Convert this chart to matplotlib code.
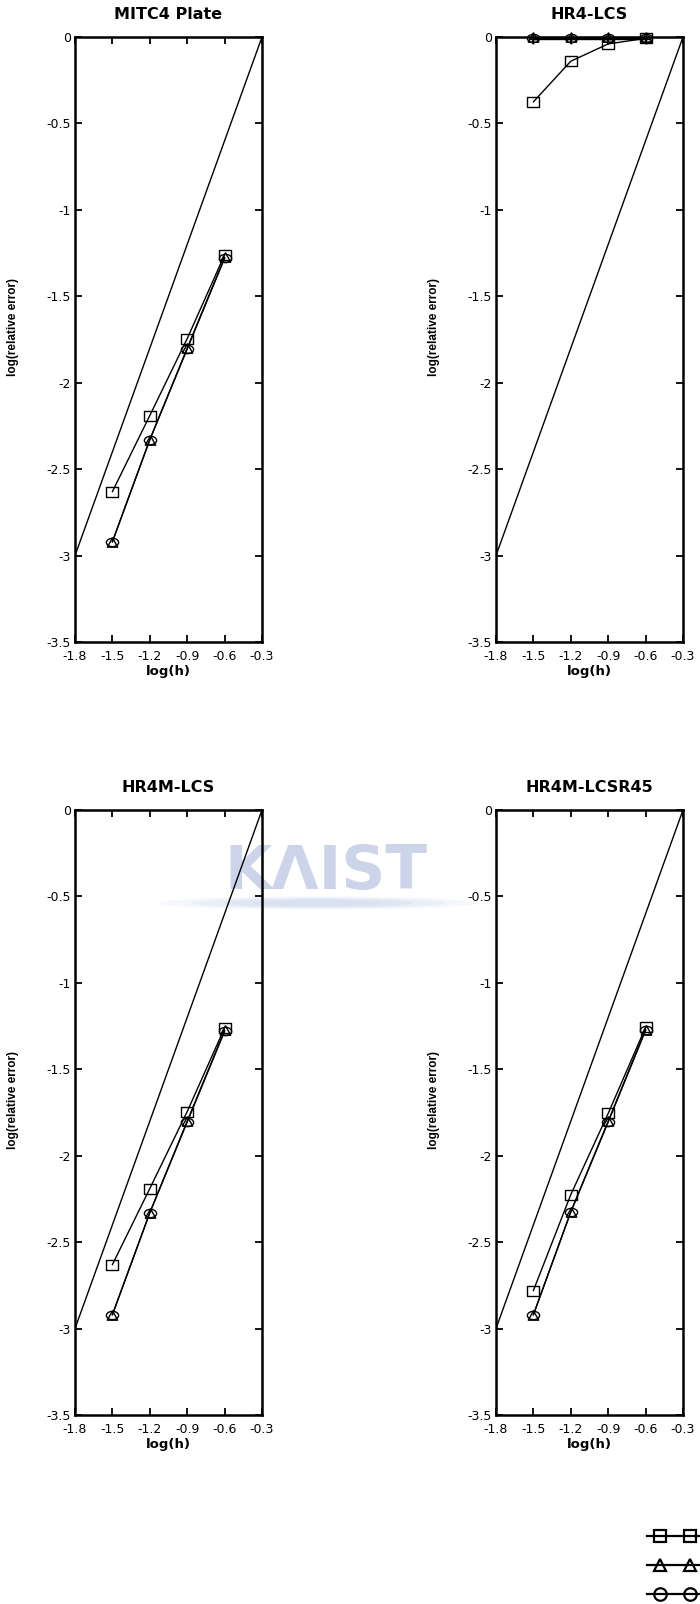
import numpy as np
import matplotlib
matplotlib.use("Agg")
import matplotlib.pyplot as plt
from matplotlib.path import Path
from matplotlib.transforms import Affine2D
from matplotlib.legend_handler import HandlerLine2D
from matplotlib.lines import Line2D
from matplotlib.patches import Ellipse

# ---------------- data ----------------
log_h = [-1.5, -1.2, -0.9, -0.6]
ref_x = [-1.8, -0.3]
ref_y = [-3.0, 0.0]

titles = ["MITC4 Plate", "HR4-LCS", "HR4M-LCS", "HR4M-LCSR45"]

sq_mitc4 = [-2.63, -2.19, -1.745, -1.26]
tri_mitc4 = [-2.92, -2.33, -1.80, -1.275]
cir_mitc4 = [-2.92, -2.33, -1.805, -1.28]

sq_hr4 = [-0.375, -0.14, -0.04, -0.008]
tri_hr4 = [-0.002, -0.002, -0.002, -0.002]
cir_hr4 = [-0.003, -0.003, -0.003, -0.003]
plus_hr4 = [-0.01, -0.01, -0.01, -0.01]

sq_hr4m = [-2.63, -2.19, -1.745, -1.26]
tri_hr4m = [-2.92, -2.33, -1.80, -1.275]
cir_hr4m = [-2.92, -2.33, -1.805, -1.28]

sq_r45 = [-2.78, -2.225, -1.755, -1.257]
tri_r45 = [-2.92, -2.325, -1.80, -1.27]
cir_r45 = [-2.92, -2.325, -1.805, -1.275]

series_labels = ["t/L=1/100", "t/L=1/1000", "t/L=1/10000", "t/L=1/100000"]

yticks = [0, -0.5, -1, -1.5, -2, -2.5, -3, -3.5]
ytick_labels = ["0", "-0.5", "-1", "-1.5", "-2", "-2.5", "-3", "-3.5"]
xticks = [-1.8, -1.5, -1.2, -0.9, -0.6, -0.3]
xtick_labels = ["-1.8", "-1.5", "-1.2", "-0.9", "-0.6", "-0.3"]

panels = [
    (titles[0], sq_mitc4, tri_mitc4, cir_mitc4, None),
    (titles[1], sq_hr4, tri_hr4, cir_hr4, plus_hr4),
    (titles[2], sq_hr4m, tri_hr4m, cir_hr4m, None),
    (titles[3], sq_r45, tri_r45, cir_r45, None),
]

# ---------------- markers ----------------
rect_path = Path([(-1, -0.8), (1, -0.8), (1, 0.8), (-1, 0.8), (-1, -0.8)],
                 [Path.MOVETO, Path.LINETO, Path.LINETO, Path.LINETO, Path.CLOSEPOLY])
ell_path = Affine2D().scale(1.0, 0.68).transform_path(Path.unit_circle())
tri_path = Path([(0, 0.9), (-1, -0.9), (1, -0.9), (0, 0.9)],
                [Path.MOVETO, Path.LINETO, Path.LINETO, Path.CLOSEPOLY])

mk = dict(color="black", lw=1.0, mfc="none", mec="black", mew=1.0)
sq_style = dict(marker=rect_path, ms=8.2, **mk)
tri_style = dict(marker=tri_path, ms=7.5, **mk)
cir_style = dict(marker=ell_path, ms=8.8, **mk)
plus_style = dict(marker="+", ms=7, **mk)

W, H = 700, 1604
fig = plt.figure(figsize=(W / 100, H / 100), dpi=100)

tick_font = dict(family=["DejaVu Sans"], size=9)

def fx(px):
    return px / W

def fy(py):
    return 1 - py / H

positions = [
    (75, 37, 262, 642),
    (496, 37, 683, 642),
    (75, 810, 262, 1415),
    (496, 810, 683, 1415),
]

for (title, sq, tri, cir, plus), (x0, y0, x1, y1) in zip(panels, positions):
    ax = fig.add_axes([fx(x0), fy(y1), fx(x1) - fx(x0), fy(y0) - fy(y1)])
    ax.patch.set_facecolor("none")
    ax.plot(ref_x, ref_y, color="black", lw=1.0)
    ax.plot(log_h, sq, clip_on=False, **sq_style)
    ax.plot(log_h, tri, clip_on=False, **tri_style)
    ax.plot(log_h, cir, clip_on=False, **cir_style)
    if plus is not None:
        ax.plot(log_h, plus, clip_on=False, **plus_style)
    ax.set_xlim(-1.8, -0.3)
    ax.set_ylim(-3.5, 0)
    ax.set_xticks(xticks)
    ax.set_xticklabels(xtick_labels, fontdict=tick_font)
    ax.set_yticks(yticks)
    ax.set_yticklabels(ytick_labels, fontdict=tick_font)
    ax.tick_params(direction="in", length=5, width=1.3, top=True, right=True,
                   pad=3, color="black")
    ax.tick_params(axis="x", pad=6)
    for s in ax.spines.values():
        s.set_linewidth(1.8)
    ax.set_title(title, fontsize=11.5, fontweight="bold", family=["DejaVu Sans"], pad=13)
    ax.set_xlabel("log(h)", fontsize=9.5, fontweight="bold", family=["DejaVu Sans"], labelpad=1)
    ax.set_ylabel("log(relative error)", fontsize=8.5, fontweight="bold",
                  family=["Liberation Sans", "DejaVu Sans"])
    ax.yaxis.set_label_coords(-0.30, 0.52)

# ---------------- watermark ----------------
for i, a in enumerate([0.25, 0.35, 0.5, 0.7]):
    sc = 1 - i * 0.2
    e = Ellipse((fx(318), fy(903)), width=fx(318) * sc, height=(13 / H) * (1 - i * 0.18),
                transform=fig.transFigure, facecolor="#d6e0f0", edgecolor="none",
                alpha=a, zorder=-2)
    fig.add_artist(e)
fig.text(fx(326), fy(889), "KΛIST", fontsize=44, fontweight="bold",
         family=["DejaVu Sans"], color="#cbd4e9",
         ha="center", va="baseline", zorder=-1)

# ---------------- legend ----------------
class TwoMarkerHandler(HandlerLine2D):
    def create_artists(self, legend, orig_handle, xdescent, ydescent, width,
                       height, fontsize, trans):
        pad = 13 * 72 / 100
        xdata = np.array([-xdescent, -xdescent + pad,
                          -xdescent + width - pad, -xdescent + width])
        ydata = np.full_like(xdata, (height - ydescent) / 2)
        legline = Line2D(xdata, ydata, markevery=[1, 2])
        self.update_prop(legline, orig_handle, legend)
        legline.set_transform(trans)
        return [legline]

leg_mk = dict(color="black", lw=1.6, mfc="none", mec="black", mew=1.6)
handles = [Line2D([], [], marker="s", ms=8.5, **leg_mk),
           Line2D([], [], marker="^", ms=9, **leg_mk),
           Line2D([], [], marker="o", ms=9, **leg_mk),
           Line2D([], [], marker="+", ms=9, **leg_mk)]
leg = fig.legend(handles, series_labels, loc="upper left",
                 bbox_to_anchor=(fx(647), fy(1530)), frameon=False,
                 borderpad=0, borderaxespad=0, handlelength=4.5,
                 handletextpad=2.0, labelspacing=1.3,
                 prop=dict(family="DejaVu Sans", size=9),
                 handler_map={Line2D: TwoMarkerHandler()})

fig.savefig("out.png", dpi=100)
